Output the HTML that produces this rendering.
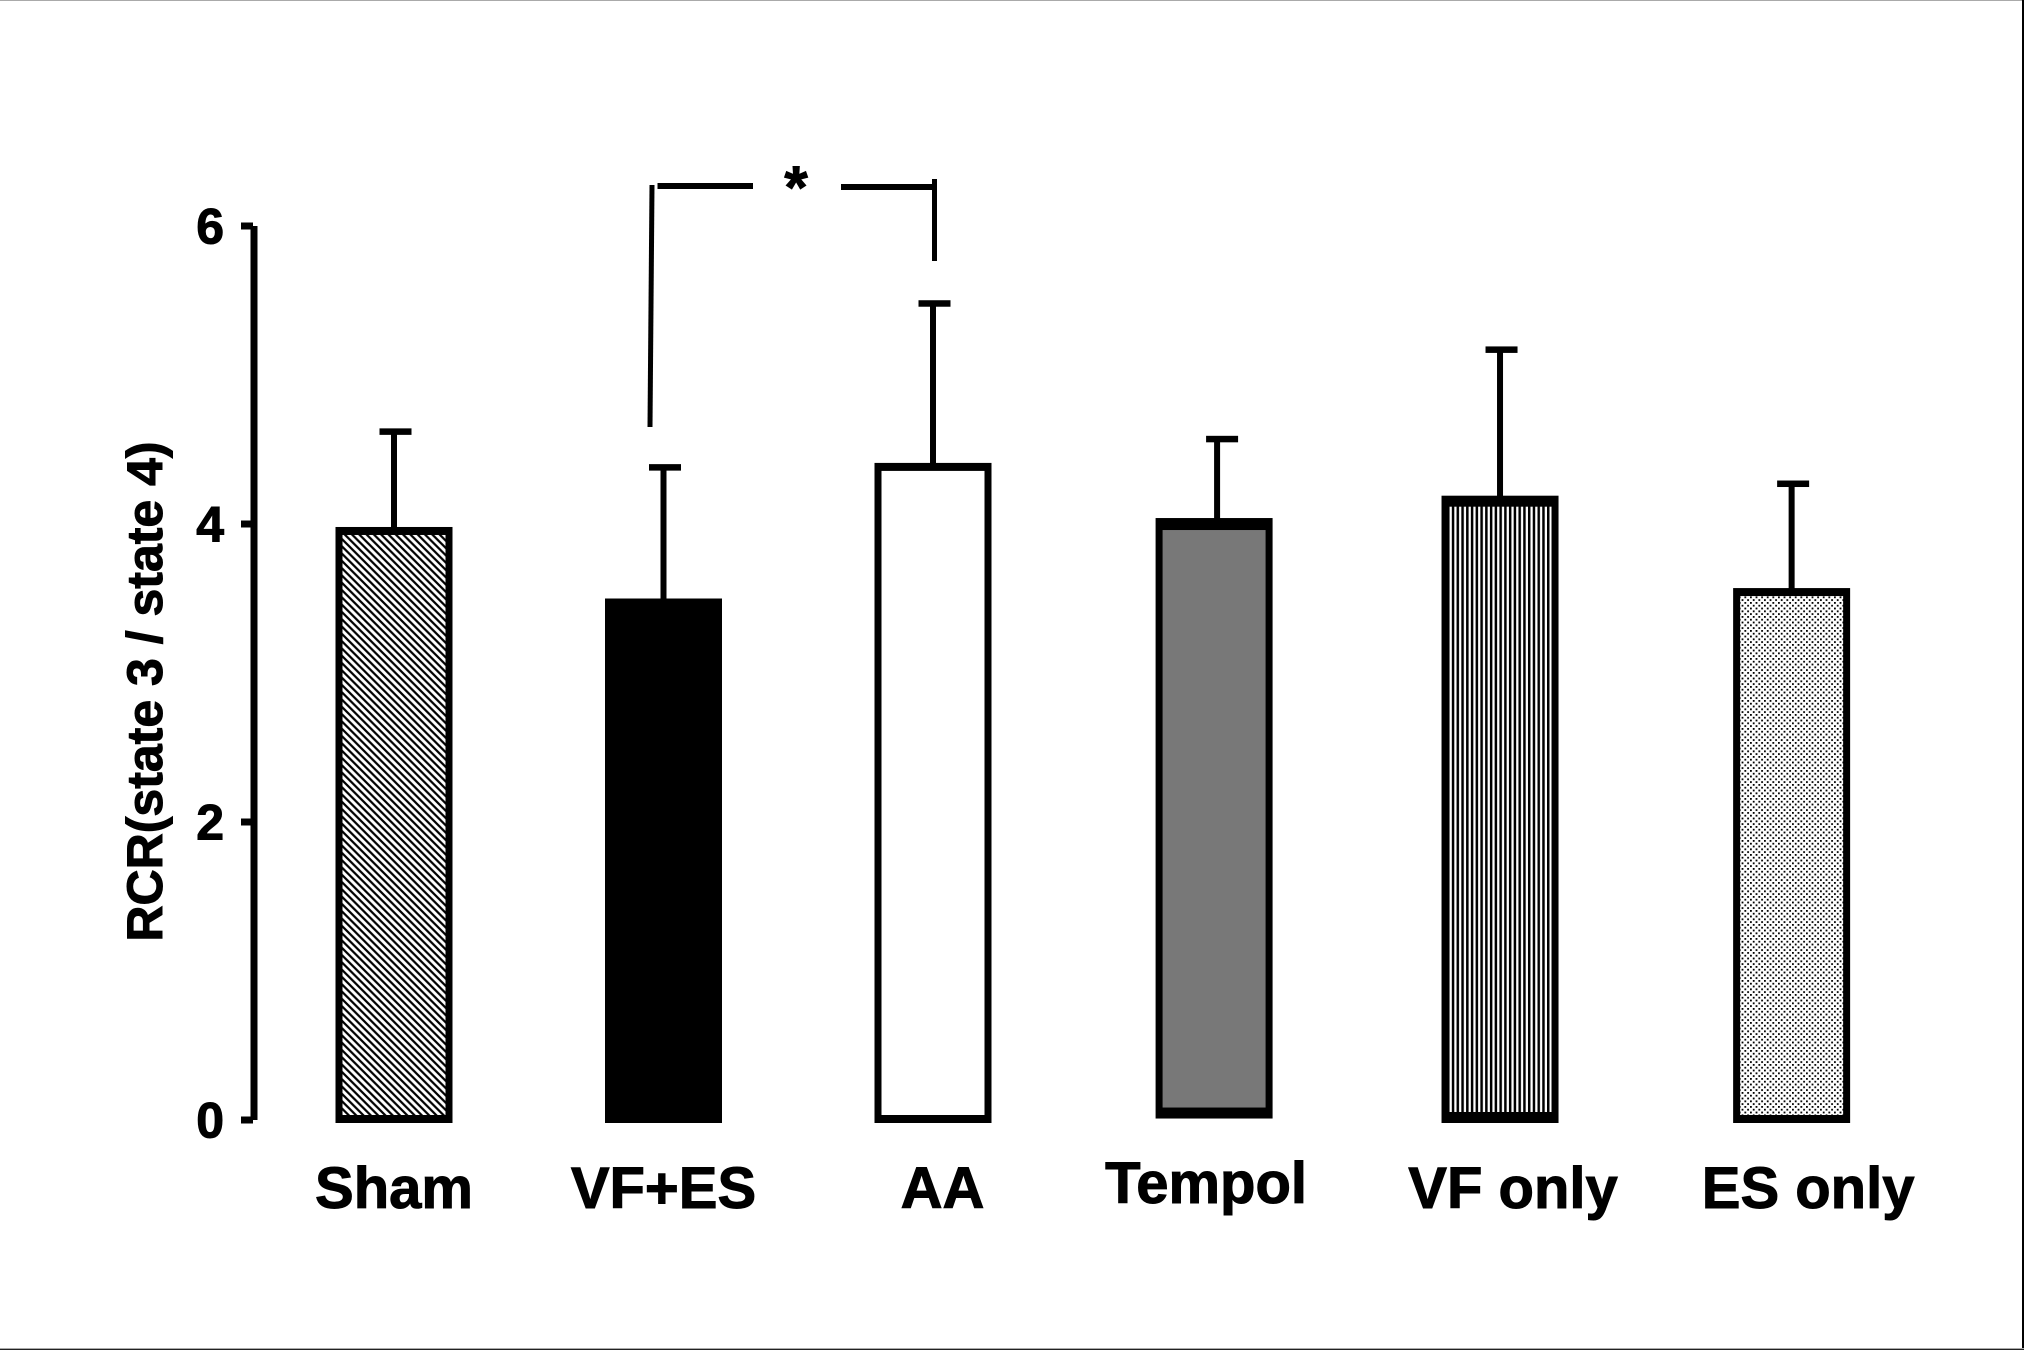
<!DOCTYPE html>
<html lang="en">
<head>
<meta charset="utf-8">
<title>RCR bar chart</title>
<style>
  html,body{margin:0;padding:0;background:#fff;}
  svg{display:block;}
  text{font-family:"Liberation Sans",Arial,sans-serif;font-weight:700;fill:#000;stroke:#000;stroke-width:1;}
</style>
</head>
<body>
<svg id="chart" xmlns="http://www.w3.org/2000/svg" width="2024" height="1350" viewBox="0 0 2024 1350">
  <defs>
    <pattern id="p-hatch" patternUnits="userSpaceOnUse" width="7.3" height="7.3">
      <rect width="7.3" height="7.3" fill="#fff"/>
      <path d="M0,0L7.3,7.3M-2,5.3L2,9.3M5.3,-2L9.3,2" stroke="#000" stroke-width="2.2"/>
    </pattern>
    <pattern id="p-stripes" patternUnits="userSpaceOnUse" width="4.76" height="10">
      <rect width="4.76" height="10" fill="#fff"/>
      <rect width="2.5" height="10" fill="#000"/>
    </pattern>
    <pattern id="p-dots" patternUnits="userSpaceOnUse" width="5.6" height="5.6">
      <rect width="5.6" height="5.6" fill="#fff"/>
      <rect x="0" y="0" width="1.8" height="1.8" fill="#000"/>
      <rect x="2.8" y="2.8" width="1.8" height="1.8" fill="#000"/>
    </pattern>
  </defs>
  <rect width="2024" height="1350" fill="#fff"/>
  <rect x="0" y="0" width="2024" height="1" fill="#aaa"/>
  <rect x="2022" y="0" width="2" height="1350" fill="#000"/>
  <rect x="0" y="1348" width="2024" height="1" fill="#aaa"/>
  <rect x="0" y="1349" width="2024" height="1" fill="#222"/>
  <text transform="translate(162 691.5) rotate(-90)" text-anchor="middle" font-size="50">RCR(state 3 / state 4)</text>
  <g id="axis"></g>
  <g id="bars"></g>
  <g>
    <path d="M652,185L650,427" stroke="#000" stroke-width="5" fill="none"/>
    <rect x="657.5" y="183" width="95.5" height="6" fill="#000"/>
    <rect x="841" y="184" width="93" height="6" fill="#000"/>
    <rect x="932" y="179" width="5" height="82" fill="#000"/>
    <text x="796" y="208" text-anchor="middle" font-size="60">*</text>
  </g>
  <g id="labels"></g>
</svg>
<script>
const categories = ["Sham", "VF+ES", "AA", "Tempol", "VF only", "ES only"];
const categorySlots = [0, 1, 2, 3.043, 4.104, 5.186];
const meanValues = [3.98, 3.5, 4.41, 4.04, 4.19, 3.57];
const errorTops = [4.62, 4.38, 5.48, 4.57, 5.17, 4.27];
const barBases = [0, 0, 0, 0.03, 0, 0];
const yTicks = [0, 2, 4, 6];

const barStyles = [
  {fill: "url(#p-hatch)", top: 8, bottom: 8, side: 7, stem: 0, cap: 1.5, label: 0, baseline: 1208},
  {fill: "#000", top: 0, bottom: 0, side: 0, stem: 0, cap: 1.5, label: 0, baseline: 1208},
  {fill: "#fff", top: 8, bottom: 8, side: 7, stem: 0, cap: 1.5, label: 9.5, baseline: 1208},
  {fill: "#787878", top: 12, bottom: 11, side: 7, stem: 3, cap: 8, label: -8, baseline: 1203},
  {fill: "url(#p-stripes)", top: 11, bottom: 11, side: 7, stem: 0, cap: 1.5, label: 13, baseline: 1208},
  {fill: "url(#p-dots)", top: 8, bottom: 8, side: 7, stem: 0, cap: 1.5, label: 16.5, baseline: 1208}
];

const yScale = v => 1120 - v * 149;
const xScale = s => 394 + s * 269.5;
const barWidth = 117;
const NS = "http://www.w3.org/2000/svg";

function make(parent, tag, attrs, text) {
  const el = document.createElementNS(NS, tag);
  for (const k in attrs) el.setAttribute(k, attrs[k]);
  if (text !== undefined) el.textContent = text;
  parent.appendChild(el);
  return el;
}

const axisG = document.getElementById("axis");
const barsG = document.getElementById("bars");
const labelsG = document.getElementById("labels");

const axisLine = make(axisG, "rect", {x: 250.5, y: yScale(6), width: 7, height: yScale(0) - yScale(6), fill: "#000"});



yTicks.forEach(t => {
  const mark = make(axisG, "rect", {x: 241, y: yScale(t) - 3.5, width: 12, height: 7, fill: "#000"});
  
  
  const lab = make(axisG, "text", {x: 224, y: yScale(t) + 17.5, "text-anchor": "end", "font-size": 50}, String(t));
  
  
});

categories.forEach((name, i) => {
  const s = barStyles[i];
  const cx = xScale(categorySlots[i]);
  const left = cx - barWidth / 2;
  const topY = yScale(meanValues[i]);
  const botY = yScale(barBases[i]) + 3;
  const key = name.toLowerCase().replace(/[^a-z]+/g, "-");

  const stemX = cx + s.stem;
  const capY = yScale(errorTops[i]);
  const stem = make(barsG, "rect", {x: stemX - 3, y: capY, width: 6, height: topY - capY + 1, fill: "#000"});
  
  
  const cap = make(barsG, "rect", {x: cx + s.cap - 16, y: capY - 3.25, width: 32, height: 6.5, fill: "#000"});
  
  

  const outer = make(barsG, "rect", {x: left, y: topY, width: barWidth, height: botY - topY, fill: "#000"});
  
  
  if (s.side > 0) {
    const inner = make(barsG, "rect", {
      x: left + s.side, y: topY + s.top,
      width: barWidth - 2 * s.side, height: botY - topY - s.top - s.bottom, fill: s.fill
    });
    
    
  }

  const label = make(labelsG, "text", {
    x: cx + s.label, y: s.baseline, "text-anchor": "middle", "font-size": 58
  }, name);
  
  
});
</script>
</body>
</html>
